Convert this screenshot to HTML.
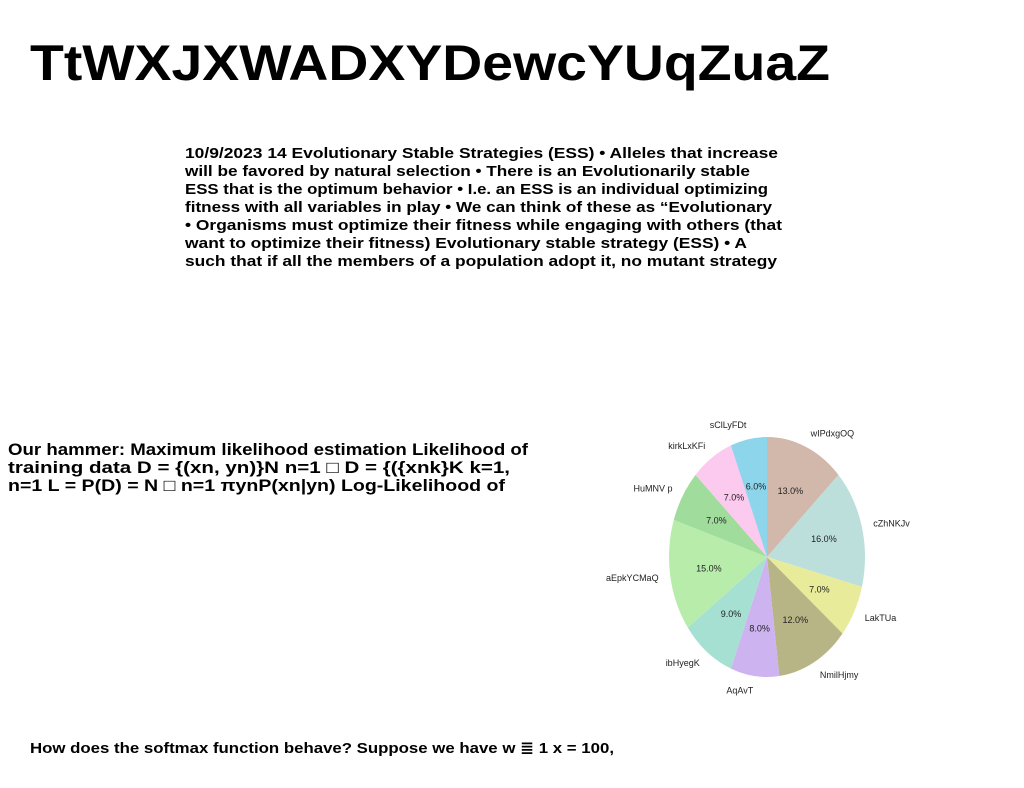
<!DOCTYPE html>
<html><head><meta charset="utf-8"><style>
html,body{margin:0;padding:0;background:#fff;}
svg{display:block;font-family:"Liberation Sans","DejaVu Sans",sans-serif;}
</style></head><body>
<svg id="page" width="1024" height="788" viewBox="0 0 1024 788">
<text x="30" y="80" font-size="50" font-weight="bold" textLength="800" lengthAdjust="spacingAndGlyphs">TtWXJXWADXYDewcYUqZuaZ</text>
<g font-size="15" font-weight="bold">
<text x="185" y="158" textLength="593" lengthAdjust="spacingAndGlyphs">10/9/2023 14 Evolutionary Stable Strategies (ESS) • Alleles that increase</text>
<text x="185" y="176" textLength="565" lengthAdjust="spacingAndGlyphs">will be favored by natural selection • There is an Evolutionarily stable</text>
<text x="185" y="194" textLength="583" lengthAdjust="spacingAndGlyphs">ESS that is the optimum behavior • I.e. an ESS is an individual optimizing</text>
<text x="185" y="212" textLength="587" lengthAdjust="spacingAndGlyphs">fitness with all variables in play • We can think of these as “Evolutionary</text>
<text x="185" y="230" textLength="597" lengthAdjust="spacingAndGlyphs">• Organisms must optimize their fitness while engaging with others (that</text>
<text x="185" y="248" textLength="562" lengthAdjust="spacingAndGlyphs">want to optimize their fitness) Evolutionary stable strategy (ESS) • A</text>
<text x="185" y="266" textLength="592" lengthAdjust="spacingAndGlyphs">such that if all the members of a population adopt it, no mutant strategy</text>
</g>
<g font-size="17" font-weight="bold">
<text x="8" y="455" textLength="520" lengthAdjust="spacingAndGlyphs">Our hammer: Maximum likelihood estimation Likelihood of</text>
<text x="8" y="473" textLength="502" lengthAdjust="spacingAndGlyphs">training data D = {(xn, yn)}N n=1 □ D = {({xnk}K k=1,</text>
<text x="8" y="491" textLength="497" lengthAdjust="spacingAndGlyphs">n=1 L = P(D) = N □ n=1 πynP(xn|yn) Log-Likelihood of</text>
</g>
<text x="30" y="753" font-size="15" font-weight="bold" textLength="584" lengthAdjust="spacingAndGlyphs">How does the softmax function behave? Suppose we have w ≣ 1 x = 100,</text>
<g id="pie"></g>
</svg>
<script>
const categories = ["wIPdxgOQ","cZhNKJv","LakTUa","NmilHjmy","AqAvT","ibHyegK","aEpkYCMaQ","HuMNV p","kirkLxKFi","sClLyFDt"];
const values = [13,16,7,12,8,9,15,7,7,6];
const colors = ["#d2b7ab","#bcdfdb","#e8ec9a","#b7b585","#cdb3f0","#a6e0d2","#b8ecab","#a0dc9b","#fcc9ef","#8cd5ea"];
const NS="http://www.w3.org/2000/svg";
const g=document.getElementById('pie');
const cx=767, cy=557, rx=98, ry=120;
const total=values.reduce((a,b)=>a+b,0);
function pt(a,f){return [cx+rx*f*Math.sin(a), cy-ry*f*Math.cos(a)];}
let acc=0;
values.forEach((v,i)=>{
  const a0=acc/total*2*Math.PI; acc+=v; const a1=acc/total*2*Math.PI;
  const p0=pt(a0,1), p1=pt(a1,1);
  const large=(a1-a0)>Math.PI?1:0;
  const path=document.createElementNS(NS,'path');
  path.setAttribute('d',`M${cx},${cy} L${p0[0]},${p0[1]} A${rx},${ry} 0 ${large} 1 ${p1[0]},${p1[1]} Z`);
  path.setAttribute('fill',colors[i]);
  
  
  g.appendChild(path);
  const am=(a0+a1)/2;
  const pp=pt(am,0.6);
  const t=document.createElementNS(NS,'text');
  t.setAttribute('x',pp[0]);t.setAttribute('y',pp[1]+3);
  t.setAttribute('font-size','9');t.setAttribute('text-anchor','middle');t.setAttribute('fill','#222');
  t.textContent=(v/total*100).toFixed(1)+'%';
  
  
  g.appendChild(t);
  const lp=pt(am,1.12);
  const l=document.createElementNS(NS,'text');
  l.setAttribute('x',lp[0]);l.setAttribute('y',lp[1]+3);
  l.setAttribute('font-size','9');l.setAttribute('fill','#222');
  l.setAttribute('text-anchor',Math.sin(am)>0.05?'start':(Math.sin(am)<-0.05?'end':'middle'));
  l.textContent=categories[i];
  
  
  g.appendChild(l);
});
</script>
</body></html>
